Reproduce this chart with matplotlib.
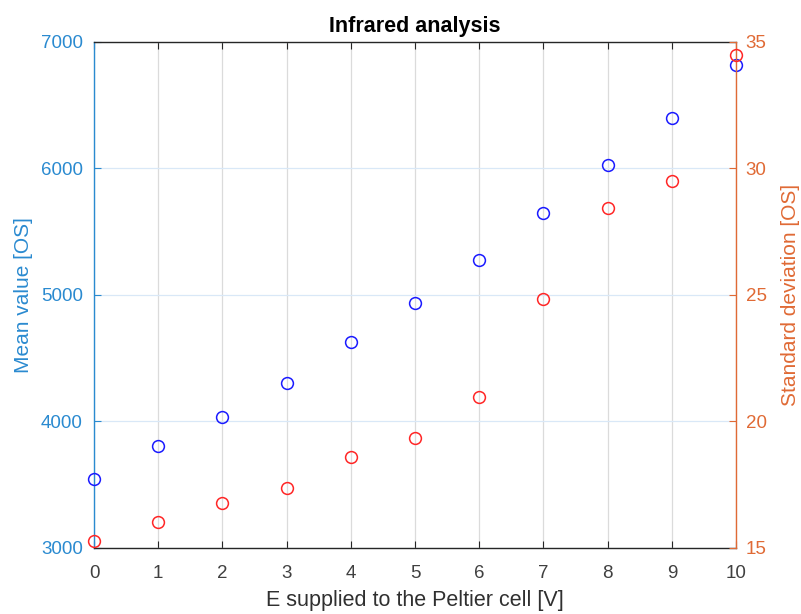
import matplotlib
matplotlib.use("Agg")
import matplotlib.pyplot as plt

plt.rcParams["font.family"] = ["Liberation Sans", "DejaVu Sans"]

# data
voltage = [0, 1, 2, 3, 4, 5, 6, 7, 8, 9, 10]
mean_value = [3545, 3810, 4032, 4306, 4630, 4933, 5275, 5649, 6031, 6399, 6815]
std_dev = [15.29, 16.04, 16.79, 17.36, 18.6, 19.35, 20.98, 24.83, 28.45, 29.5, 34.49]

LEFT_TXT = "#2a8ad0"
RIGHT_TXT = "#e06a35"
DARK = (0.15, 0.15, 0.15)

fig = plt.figure(figsize=(8.01, 6.14), dpi=100)
ax = fig.add_axes([0.1174, 0.1075, 0.8015, 0.8241])
ax2 = ax.twinx()

ax.plot(voltage, mean_value, "o", mfc="none", mec=(0.1, 0.1, 1), ms=8.5, mew=1.1,
        clip_on=False, zorder=5)
ax2.plot(voltage, std_dev, "o", mfc="none", mec=(1, 0.15, 0.15), ms=8.5, mew=1.1,
         clip_on=False, zorder=5)

ax.set_xlim(0, 10)
ax.set_ylim(3000, 7000)
ax2.set_ylim(15, 35)
ax.set_xticks(range(0, 11))
ax.set_yticks([3000, 4000, 5000, 6000, 7000])
ax2.set_yticks([15, 20, 25, 30, 35])

# grid: vertical gray, horizontal light blue
ax.xaxis.grid(True, color=(0.86, 0.86, 0.86), lw=0.9)
ax.yaxis.grid(True, color=(0.85, 0.91, 0.97), lw=0.9)
ax.set_axisbelow(True)

ax.spines["left"].set_color(LEFT_TXT)
ax.spines["bottom"].set_color(DARK)
ax.spines["top"].set_color(DARK)
ax.spines["right"].set_visible(False)
ax2.spines["right"].set_color(RIGHT_TXT)
ax2.spines["left"].set_visible(False)
ax2.spines["top"].set_visible(False)
ax2.spines["bottom"].set_visible(False)
for s in list(ax.spines.values()) + [ax2.spines["right"]]:
    s.set_linewidth(1.0)

ax.tick_params(axis="x", direction="in", top=True, length=5, color=DARK,
               labelcolor="#404040", labelsize=13.5, pad=12)
ax.tick_params(axis="y", direction="in", length=5, color=LEFT_TXT,
               labelcolor=LEFT_TXT, labelsize=13.5, pad=8)
ax2.tick_params(axis="y", direction="in", length=5, color=RIGHT_TXT,
                labelcolor=RIGHT_TXT, labelsize=13.5, pad=7)

ax.set_xlabel("E supplied to the Peltier cell [V]", fontsize=15.5, color="#303030", labelpad=6)
ax.set_ylabel("Mean value [OS]", fontsize=15, color=LEFT_TXT, labelpad=6)
ax2.set_ylabel("Standard deviation [OS]", fontsize=15, color=RIGHT_TXT, labelpad=10)
ax.set_title("Infrared analysis", fontsize=15.5, fontweight="bold", color="black", pad=7)

fig.savefig("out.png", dpi=100)
